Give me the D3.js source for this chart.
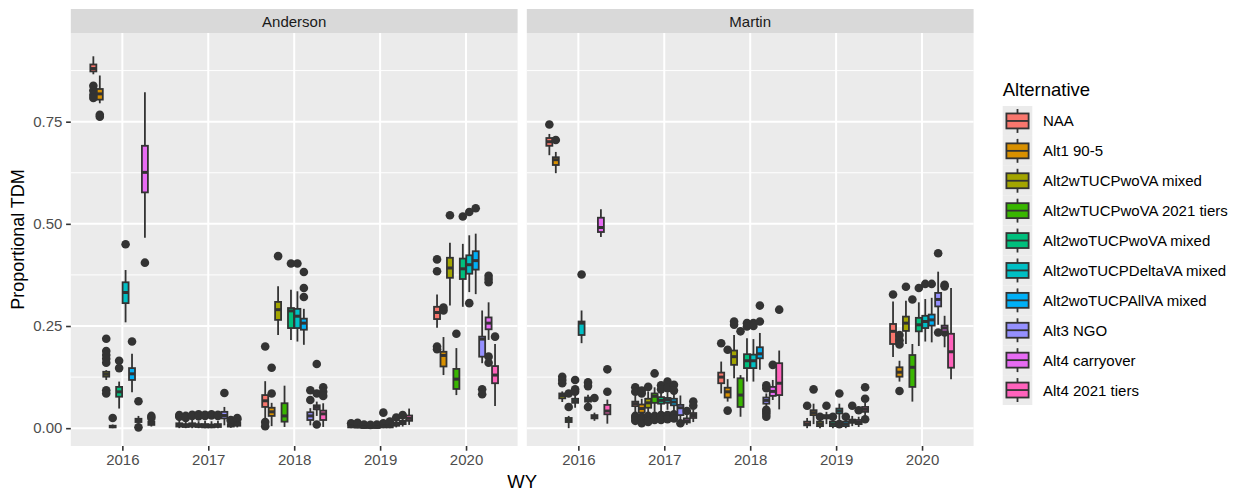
<!DOCTYPE html>
<html><head><meta charset="utf-8">
<script src="https://cdn.jsdelivr.net/npm/d3@7/dist/d3.min.js"></script>
<style>body{margin:0;background:#fff}svg{display:block;font-family:"Liberation Sans",Arial,sans-serif}</style>
</head><body><svg id="chart" width="1239" height="491"></svg>
<script>
// ---------------- data ----------------
const panels = ["Anderson", "Martin"];
const years = ["2016", "2017", "2018", "2019", "2020"];
const alternatives = ["NAA", "Alt1 90-5", "Alt2wTUCPwoVA mixed", "Alt2wTUCPwoVA 2021 tiers",
  "Alt2woTUCPwoVA mixed", "Alt2woTUCPDeltaVA mixed", "Alt2woTUCPAllVA mixed",
  "Alt3 NGO", "Alt4 carryover", "Alt4 2021 tiers"];
const yTicks = [0, 0.25, 0.5, 0.75];
const yTickLabels = ["0.00", "0.25", "0.50", "0.75"];
const yMinorTicks = [0.125, 0.375, 0.625, 0.875];

// box stats per year, per alternative: [lower whisker, Q1, median, Q3, upper whisker]
const andersonStats = [
  [[0.866,0.873,0.880,0.890,0.910],[0.795,0.804,0.818,0.830,0.863],[0.118,0.126,0.132,0.138,0.142],[0.000,0.002,0.004,0.006,0.009],[0.048,0.077,0.089,0.101,0.114],
   [0.259,0.306,0.332,0.357,0.387],[0.088,0.118,0.133,0.147,0.182],[0.008,0.015,0.019,0.023,0.030],[0.466,0.577,0.626,0.691,0.822],[0.004,0.008,0.012,0.016,0.020]],
  [[0.000,0.004,0.007,0.012,0.020],[0.000,0.003,0.006,0.010,0.018],[0.000,0.004,0.008,0.012,0.020],[0.000,0.003,0.006,0.010,0.017],[0.000,0.002,0.005,0.010,0.018],
   [0.000,0.002,0.005,0.009,0.017],[0.000,0.003,0.006,0.010,0.018],[0.007,0.024,0.031,0.040,0.052],[0.001,0.004,0.007,0.010,0.014],[0.002,0.006,0.010,0.014,0.020]],
  [[0.020,0.052,0.067,0.081,0.115],[0.005,0.030,0.040,0.050,0.062],[0.228,0.265,0.290,0.309,0.347],[0.003,0.016,0.030,0.061,0.104],[0.216,0.245,0.287,0.294,0.339],
   [0.212,0.245,0.274,0.292,0.335],[0.204,0.241,0.257,0.268,0.292],[0.007,0.020,0.030,0.039,0.049],[0.030,0.046,0.051,0.056,0.065],[0.003,0.020,0.035,0.043,0.061]],
  [[0.000,0.002,0.004,0.006,0.009],[0.000,0.002,0.003,0.005,0.008],[0.000,0.001,0.002,0.004,0.006],[0.000,0.001,0.002,0.003,0.005],[0.000,0.001,0.002,0.004,0.006],
   [0.000,0.002,0.004,0.006,0.009],[0.000,0.002,0.004,0.007,0.011],[0.002,0.006,0.009,0.013,0.020],[0.004,0.010,0.014,0.018,0.025],[0.008,0.018,0.024,0.031,0.048]],
  [[0.246,0.267,0.283,0.297,0.327],[0.130,0.151,0.178,0.187,0.223],[0.300,0.368,0.392,0.417,0.454],[0.081,0.096,0.120,0.145,0.196],[0.297,0.365,0.390,0.415,0.451],
   [0.333,0.378,0.400,0.423,0.472],[0.328,0.388,0.410,0.433,0.476],[0.159,0.175,0.218,0.224,0.288],[0.216,0.242,0.257,0.271,0.308],[0.054,0.110,0.130,0.152,0.206]]
];
const andersonOutliers = [
  [[0.838,0.826,0.815,0.808],[0.767,0.762],[0.219,0.189,0.179,0.170,0.160,0.093,0.085],[0.025],[0.165,0.147],[0.450],[0.212],[0.066,0.002],[0.405],[0.030,0.025]],
  [[0.032,0.028],[0.030,0.025],[0.033,0.030],[0.034,0.029],[0.033,0.030],[0.034,0.031],[0.033,0.030],[0.086],[0.020,0.018],[0.025,0.022]],
  [[0.200,0.015,0.005],[0.148,0.085],[0.421],[],[0.403],[0.403],[0.382,0.343,0.321],[0.093,0.069],[0.157,0.085,0.009],[0.100,0.089,0.079]],
  [[0.012],[0.013,0.011],[0.009],[0.008],[0.009],[0.038,0.012],[0.016],[0.026],[0.032],[]],
  [[0.413,0.384,0.200,0.193],[0.295,0.288],[0.521],[0.231],[0.518],[0.529,0.306],[0.538],[0.095,0.083],[0.373,0.365,0.357,0.175,0.160],[0.224]]
];
const martinStats = [
  [[0.668,0.691,0.701,0.710,0.720],[0.624,0.644,0.657,0.663,0.676],[0.064,0.073,0.080,0.085,0.090],[0.000,0.015,0.020,0.025,0.030],[0.050,0.062,0.067,0.072,0.080],
   [0.208,0.228,0.257,0.261,0.288],[0.058,0.065,0.070,0.075,0.082],[0.018,0.024,0.028,0.032,0.038],[0.468,0.480,0.491,0.515,0.536],[0.011,0.034,0.042,0.057,0.070]],
  [[0.035,0.054,0.060,0.065,0.080],[0.018,0.038,0.048,0.058,0.072],[0.028,0.050,0.062,0.072,0.090],[0.040,0.062,0.078,0.085,0.100],[0.040,0.060,0.068,0.076,0.090],
   [0.045,0.062,0.069,0.074,0.088],[0.040,0.056,0.064,0.072,0.086],[0.020,0.032,0.050,0.057,0.080],[0.008,0.014,0.018,0.024,0.032],[0.015,0.025,0.031,0.037,0.045]],
  [[0.085,0.110,0.125,0.136,0.163],[0.065,0.075,0.089,0.099,0.120],[0.122,0.155,0.175,0.190,0.228],[0.028,0.052,0.081,0.122,0.130],[0.114,0.147,0.165,0.181,0.220],
   [0.114,0.147,0.165,0.180,0.218],[0.143,0.171,0.182,0.198,0.233],[0.050,0.060,0.068,0.075,0.085],[0.069,0.079,0.090,0.101,0.118],[0.046,0.081,0.110,0.159,0.190]],
  [[0.000,0.007,0.010,0.016,0.025],[0.010,0.032,0.038,0.044,0.060],[0.000,0.005,0.010,0.016,0.022],[0.010,0.024,0.028,0.032,0.040],[0.000,0.005,0.010,0.016,0.022],
   [0.015,0.036,0.042,0.048,0.060],[0.000,0.005,0.010,0.016,0.022],[0.005,0.013,0.017,0.021,0.030],[0.003,0.010,0.014,0.020,0.028],[0.030,0.040,0.046,0.052,0.062]],
  [[0.174,0.206,0.237,0.255,0.310],[0.114,0.126,0.137,0.149,0.165],[0.206,0.238,0.257,0.273,0.312],[0.065,0.101,0.149,0.179,0.206],[0.201,0.237,0.253,0.270,0.308],
   [0.212,0.245,0.261,0.275,0.316],[0.210,0.251,0.265,0.278,0.319],[0.253,0.298,0.315,0.331,0.383],[0.198,0.237,0.245,0.251,0.275],[0.120,0.148,0.187,0.231,0.343]]
];
const martinOutliers = [
  [[0.743],[0.705],[0.126,0.118,0.110],[0.085,0.052],[0.118,0.095,0.089],[0.376],[0.112,0.103,0.052],[0.074],[],[0.144,0.089]],
  [[0.100,0.089,0.030,0.025,0.018],[0.092,0.085,0.028,0.020,0.012],[0.101,0.030,0.020,0.015],[0.134,0.030,0.025,0.020],[0.105,0.095,0.032,0.028,0.020],[0.114,0.098,0.032,0.030,0.022],[0.106,0.092,0.034,0.030,0.024],[0.012],[0.042],[0.065,0.055]],
  [[0.208],[0.192,0.043],[0.261,0.253],[0.237],[0.257,0.249],[0.257,0.250],[0.300,0.261],[0.105,0.098,0.045,0.040,0.035,0.028],[0.155],[0.290]],
  [[0.055],[0.095],[0.028],[0.055],[0.028],[0.085,0.010],[0.028],[0.055],[0.044],[0.100,0.072,0.022]],
  [[0.327],[0.228,0.215,0.205,0.091],[0.346],[0.315],[0.343],[0.353],[0.353],[0.428,0.234],[0.351,0.347,0.234],[]]
];
const panelStats = [andersonStats, martinStats];
const panelOutliers = [andersonOutliers, martinOutliers];

// ---------------- styles / layout ----------------
const palette = ["#F8766D","#D89000","#A3A500","#39B600","#00BF7D","#00BFC4","#00B0F6","#9590FF","#E76BF3","#FF62BC"];
const color = d3.scaleOrdinal().domain(alternatives).range(palette);
const ink = "#333333";
const stripTop = 9, panelTop = 33, panelBottom = 446;
const panelLefts = [70.8, 526.8], panelWidth = 446.8;

const svg = d3.select("#chart");
svg.append("rect").attr("width", 1239).attr("height", 491).attr("fill", "#fff");

const y = d3.scaleLinear().domain([-0.0436, 0.967]).range([panelBottom, panelTop]);

panels.forEach((name, p) => {
  const left = panelLefts[p];
  const x = d3.scalePoint().domain(years).range([left, left + panelWidth]).padding(0.6);
  const step = x.step();
  const dodge = d3.scaleBand().domain(alternatives).range([-0.375 * step, 0.375 * step]);
  const bw = dodge.bandwidth() * 0.93;
  const g = svg.append("g");

  g.append("rect").attr("x", left).attr("y", panelTop).attr("width", panelWidth)
    .attr("height", panelBottom - panelTop).attr("fill", "#EBEBEB");
  g.selectAll(".minor").data(yMinorTicks).join("line")
    .attr("x1", left).attr("x2", left + panelWidth)
    .attr("y1", d => y(d)).attr("y2", d => y(d))
    .attr("stroke", "#fff").attr("stroke-width", 1);
  g.selectAll(".majory").data(yTicks).join("line")
    .attr("x1", left).attr("x2", left + panelWidth)
    .attr("y1", d => y(d)).attr("y2", d => y(d))
    .attr("stroke", "#fff").attr("stroke-width", 2);
  g.selectAll(".majorx").data(years).join("line")
    .attr("x1", d => x(d)).attr("x2", d => x(d))
    .attr("y1", panelTop).attr("y2", panelBottom)
    .attr("stroke", "#fff").attr("stroke-width", 2);

  // strip
  g.append("rect").attr("x", left).attr("y", stripTop).attr("width", panelWidth)
    .attr("height", panelTop - stripTop).attr("fill", "#D9D9D9");
  g.append("text").attr("x", left + panelWidth / 2).attr("y", (stripTop + panelTop) / 2)
    .attr("text-anchor", "middle").attr("dominant-baseline", "central")
    .attr("font-size", 15).attr("fill", "#1A1A1A").text(name);

  // boxes
  const stats = panelStats[p], outs = panelOutliers[p];
  years.forEach((yr, yi) => {
    alternatives.forEach((alt, ai) => {
      const s = stats[yi][ai];
      const cx = x(yr) + dodge(alt) + dodge.bandwidth() / 2;
      const bg = g.append("g");
      bg.selectAll("circle").data(outs[yi][ai]).join("circle")
        .attr("cx", cx).attr("cy", d => y(d)).attr("r", 4.3).attr("fill", ink);
      bg.append("line").attr("x1", cx).attr("x2", cx).attr("y1", y(s[4])).attr("y2", y(s[3]))
        .attr("stroke", ink).attr("stroke-width", 1.8);
      bg.append("line").attr("x1", cx).attr("x2", cx).attr("y1", y(s[1])).attr("y2", y(s[0]))
        .attr("stroke", ink).attr("stroke-width", 1.8);
      bg.append("rect").attr("x", cx - bw / 2).attr("y", y(s[3])).attr("width", bw)
        .attr("height", Math.max(0.01, y(s[1]) - y(s[3])))
        .attr("fill", color(alt)).attr("stroke", ink).attr("stroke-width", 1.8);
      bg.append("line").attr("x1", cx - bw / 2).attr("x2", cx + bw / 2)
        .attr("y1", y(s[2])).attr("y2", y(s[2])).attr("stroke", ink).attr("stroke-width", 3);
    });
  });

  // bottom axis
  const ax = g.append("g").attr("transform", `translate(0,${panelBottom})`)
    .call(d3.axisBottom(x).tickSize(4.7).tickPadding(3.7));
  ax.select(".domain").remove();
  ax.selectAll("line").attr("stroke", ink).attr("stroke-width", 1.6);
  ax.selectAll("text").attr("fill", "#4D4D4D").attr("font-size", 15).attr("font-family", null);

  if (p === 0) {
    const ay = g.append("g").attr("transform", `translate(${left},0)`)
      .call(d3.axisLeft(y).tickValues(yTicks).tickFormat((d, i) => yTickLabels[i]).tickSize(4.7).tickPadding(3.7));
    ay.select(".domain").remove();
    ay.selectAll("line").attr("stroke", ink).attr("stroke-width", 1.6);
    ay.selectAll("text").attr("fill", "#4D4D4D").attr("font-size", 15).attr("font-family", null);
  }
});

// axis titles
svg.append("text").attr("x", (panelLefts[0] + panelLefts[1] + panelWidth) / 2).attr("y", 481)
  .attr("text-anchor", "middle").attr("dominant-baseline", "central")
  .attr("font-size", 18.5).attr("fill", "#000").text("WY");
svg.append("text").attr("transform", `translate(18,${(panelTop + panelBottom) / 2}) rotate(-90)`)
  .attr("text-anchor", "middle").attr("dominant-baseline", "central")
  .attr("font-size", 18).attr("fill", "#000").text("Proportional TDM");

// legend
const lg = svg.append("g").attr("transform", "translate(1002.7,0)");
lg.append("text").attr("x", 0).attr("y", 89).attr("dominant-baseline", "central")
  .attr("font-size", 18.5).attr("fill", "#000").text("Alternative");
const keyW = 29.6, keyH = 29.9, keyTop = 106;
alternatives.forEach((alt, i) => {
  const k = lg.append("g").attr("transform", `translate(0,${keyTop + i * keyH})`);
  k.append("rect").attr("width", keyW).attr("height", keyH).attr("fill", "#EBEBEB");
  k.append("line").attr("x1", keyW / 2).attr("x2", keyW / 2).attr("y1", keyH * 0.1).attr("y2", keyH * 0.25)
    .attr("stroke", ink).attr("stroke-width", 1.8);
  k.append("line").attr("x1", keyW / 2).attr("x2", keyW / 2).attr("y1", keyH * 0.75).attr("y2", keyH * 0.9)
    .attr("stroke", ink).attr("stroke-width", 1.8);
  k.append("rect").attr("x", keyW * 0.125).attr("y", keyH * 0.25).attr("width", keyW * 0.75).attr("height", keyH * 0.5)
    .attr("fill", color(alt)).attr("stroke", ink).attr("stroke-width", 1.8);
  k.append("line").attr("x1", keyW * 0.125).attr("x2", keyW * 0.875).attr("y1", keyH / 2).attr("y2", keyH / 2)
    .attr("stroke", ink).attr("stroke-width", 1.8);
  k.append("text").attr("x", 40.3).attr("y", keyH / 2).attr("dominant-baseline", "central")
    .attr("font-size", 15).attr("fill", "#000").text(alt);
});
</script></body></html>
